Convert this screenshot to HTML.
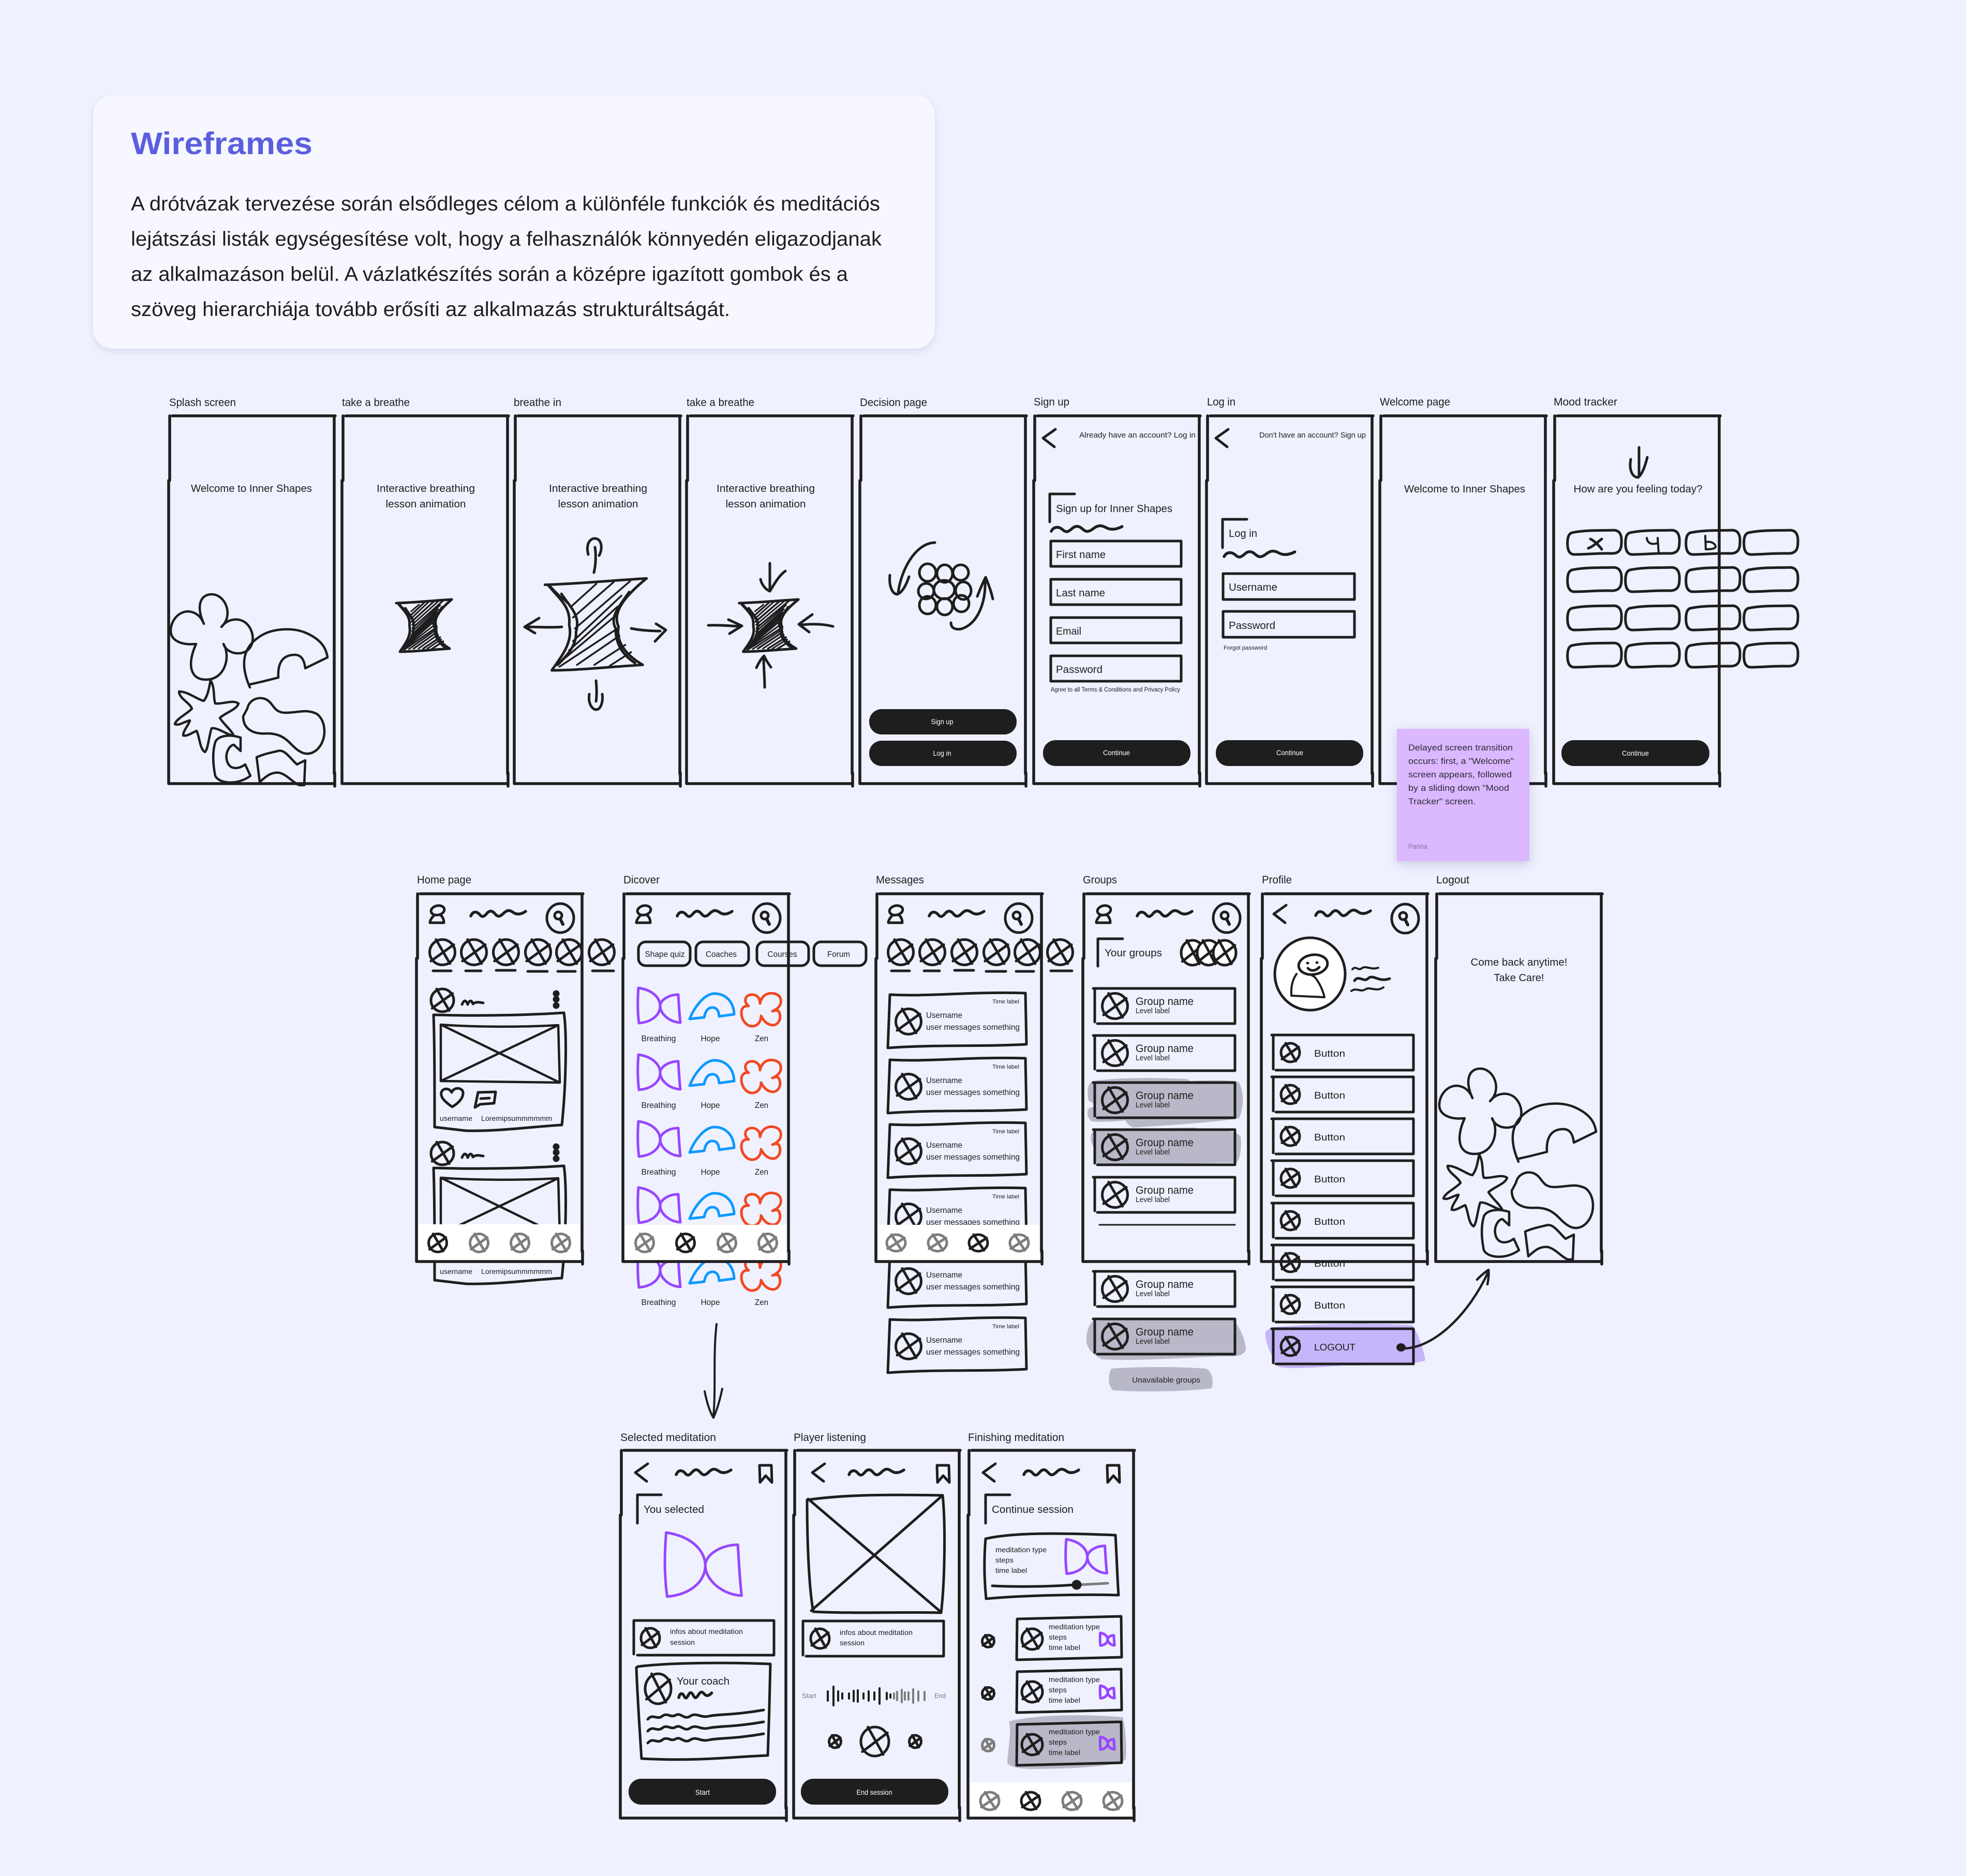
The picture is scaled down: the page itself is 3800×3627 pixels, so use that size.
<!DOCTYPE html>
<html><head><meta charset="utf-8"><title>Wireframes</title>
<style>
html,body{margin:0;padding:0;background:#eff1ff}
svg{display:block}
text{font-family:"Liberation Sans",sans-serif;fill:#1e1e1e;stroke:none}
path,ellipse,circle,line,rect{vector-effect:non-scaling-stroke}
</style></head>
<body>
<svg xmlns="http://www.w3.org/2000/svg" width="3800" height="3627" viewBox="0 0 3800 3627">
<defs>
<g id="frame"><path d="M6,0H321M319,2V692M320,690V716M-1,711H319M1,0V125M-1,125V711" stroke-width="5.5"/></g>
<g id="x"><ellipse rx="10" ry="10"/><path d="M-5,-10L6,9M9,-6L-9,7"/></g>
<g id="sq"><path d="M0,10C4,0 12,1 17,7S25,12 31,5S42,0 47,6S56,12 63,5S75,-2 82,3S97,7 106,1" stroke-width="5.5"/></g>
<g id="back"><path d="M24,0L0,17L22,34"/></g>
<g id="srch"><ellipse rx="26" ry="28"/><circle cx="-4" cy="-5" r="7"/><path d="M0,2L5,12" stroke-width="6"/></g>
<g id="head"><ellipse cx="40" cy="32" rx="13" ry="9" transform="rotate(-12 40 32)"/><path d="M34,41C28,46 25,52 25,56H52C52,50 50,44 44,40"/><use href="#sq" x="104" y="33"/><use href="#srch" x="277" y="47"/></g>
<g id="book"><path d="M0,0H23L24,33L12,20L1,33Z"/></g>
<g id="stories"><use href="#x" transform="translate(49,113) scale(2.45)"/><use href="#x" transform="translate(110,113) scale(2.45)"/><use href="#x" transform="translate(172,113) scale(2.45)"/><use href="#x" transform="translate(234,113) scale(2.45)"/><use href="#x" transform="translate(294,113) scale(2.45)"/><use href="#x" transform="translate(357,113) scale(2.45)"/><path d="M31,149H66M94,149H124M153,148H190M214,150H252M272,150H306M339,149H380"/></g>
<g id="bow"><path d="M2,0C30,4 44,20 44,35C44,52 28,66 3,68C0,45 0,25 2,0ZM44,35C44,24 60,13 79,13C80,30 81,50 83,67C62,66 44,50 44,35Z"/></g>
<g id="arc"><path d="M0,49C8,28 28,0 48,0C68,0 85,14 86,40L57,44C56,30 50,26 42,27C34,28 30,36 28,46Z"/></g>
<g id="flw"><path d="M36,20C36,6 26,2 18,3C6,5 4,18 14,25C6,24 0,28 0,38C0,52 10,65 22,64C34,63 38,52 38,44C44,56 52,62 62,62C74,60 78,46 72,35C70,33 66,33 60,35C72,30 78,22 76,12C74,2 62,-1 52,1C44,3 38,10 36,20Z"/></g>
<g id="shapes3" stroke-width="5"><use href="#bow" x="0" y="0" stroke="#9747ff"/><use href="#arc" x="101" y="11" stroke="#0d99ff"/><use href="#flw" x="201" y="10" stroke="#f24822"/></g>
<g id="mcard"><path d="M4,4C90,8 150,-2 266,1L268,100C180,105 100,100 0,107Z"/><use href="#x" transform="translate(40,56) scale(2.45)"/></g>
<g id="gcard"><path d="M-3,0H271V68M5,68H271M0,0V65"/><use href="#x" transform="translate(39,34) scale(2.45)"/></g>
<g id="pcard"><path d="M-3,0H271V66M5,68H271M0,0V66"/><use href="#x" transform="translate(33,34) scale(1.8)"/></g>
<g id="pill"><path d="M8,6C35,0 70,2 90,1C102,2 105,12 104,26C104,40 98,46 86,46C60,45 35,48 12,48C0,47 -1,32 0,20C1,12 3,8 8,6Z"/></g>
<g id="hg"><path d="M-3,6C30,5 70,1 102,-1C80,18 66,36 73,52C70,70 82,84 98,94C66,96 30,100 4,100C16,82 26,68 22,50C24,30 12,22 0,6Z"/><path d="M2,7C8,14 14,20 20,26M24,30L50,5M26,42L68,3M28,54L85,2M26,68L76,18M22,78L72,30M16,88L70,40M12,96L72,54M30,94L74,62M48,94L80,72M64,95L86,80" stroke-width="3.5"/><path d="M14,16C24,32 34,40 29,58C30,70 22,82 10,94M84,14C72,32 64,42 70,54C70,70 76,82 90,92"/></g>
<g id="hgd"><use href="#hg"/><path d="M25,22L40,9M25,36L58,4M27,48L76,3M27,61L80,10M24,73L74,24M20,83L70,35M14,92L71,47M21,95L72,58M39,94L76,67M56,94L82,76" stroke-width="3"/></g>
<g id="splash">
<path d="M394,1206C378,1170 388,1149 409,1149C436,1149 452,1190 428,1212C440,1196 462,1193 476,1205C494,1222 492,1252 474,1260C458,1268 436,1260 432,1245C446,1268 436,1314 398,1314C366,1314 362,1282 379,1245C350,1248 329,1238 330,1218C331,1196 350,1178 370,1183C382,1186 390,1195 394,1206"/>
<path d="M483,1329C466,1290 466,1255 500,1232C525,1214 565,1213 590,1223C618,1235 630,1250 633,1271L590,1292C588,1275 582,1266 570,1266C552,1266 536,1275 538,1310L506,1318L484,1323"/>
<path d="M407,1315C416,1330 412,1350 416,1360C430,1362 450,1352 461,1360C458,1372 435,1378 425,1388C432,1400 448,1412 452,1423C438,1420 420,1406 409,1408C404,1422 402,1450 396,1454C386,1448 386,1425 380,1413C372,1416 362,1424 354,1422C354,1412 366,1400 367,1393C358,1394 346,1404 338,1400C340,1390 362,1380 371,1370C366,1358 346,1350 346,1337C362,1336 384,1354 394,1355C402,1345 404,1330 407,1315"/>
<path d="M478,1370C482,1352 500,1346 514,1352C530,1360 528,1378 552,1378C578,1378 590,1370 612,1380C630,1392 634,1430 612,1450C590,1468 572,1448 560,1436C548,1424 536,1418 516,1418C490,1420 470,1410 470,1385L478,1370"/>
<path d="M465,1426C440,1418 420,1424 416,1435C410,1455 412,1480 416,1500C424,1516 460,1518 484,1500L474,1478C460,1488 444,1488 439,1472C434,1456 444,1440 452,1440L465,1452Z"/>
<path d="M496,1464L502,1512C515,1500 525,1492 540,1494C555,1498 565,1512 578,1518L588,1518L590,1470L574,1478C560,1465 550,1448 537,1452C520,1456 510,1458 496,1464Z"/>
</g>
<g id="post">
<path d="M838,1962C900,1964 1000,1964 1090,1958C1096,2000 1094,2100 1086,2175C1030,2178 960,2188 900,2186L840,2179C840,2100 840,2020 838,1962Z"/>
<path d="M852,1981C920,1986 1010,1986 1079,1982L1082,2093L852,2090ZM852,1981L1082,2093M1079,1982L852,2090" stroke-width="4.5"/>
<use href="#x" transform="translate(855,1934) scale(2.2)"/>
<path d="M893,1942C898,1930 902,1936 904,1942C908,1932 912,1934 914,1941C920,1936 926,1938 934,1939"/>
<circle cx="1075" cy="1921" r="4" fill="#1e1e1e"/><circle cx="1075" cy="1932" r="4" fill="#1e1e1e"/><circle cx="1075" cy="1944" r="4" fill="#1e1e1e"/>
<path d="M874,2140C860,2130 851,2122 853,2112C855,2104 868,2102 873,2112C878,2100 894,2103 895,2112C896,2124 884,2134 874,2140Z"/>
<path d="M924,2112L958,2111L955,2133L928,2135L918,2141ZM929,2124L946,2123"/>
</g>
</defs>

<rect width="3800" height="3627" fill="#eff1ff"/>

<rect x="180" y="184" width="1627" height="490" rx="38" fill="#f6f7ff" style="filter:drop-shadow(0 6px 7px rgba(70,70,130,.12))"/>
<text x="253" y="298" font-size="60" font-weight="700" style="fill:#5b5fde" textLength="351" lengthAdjust="spacingAndGlyphs">Wireframes</text>
<g font-size="39">
<text x="253" y="407" textLength="1448" lengthAdjust="spacingAndGlyphs">A drótvázak tervezése során elsődleges célom a különféle funkciók és meditációs</text>
<text x="253" y="475" textLength="1451" lengthAdjust="spacingAndGlyphs">lejátszási listák egységesítése volt, hogy a felhasználók könnyedén eligazodjanak</text>
<text x="253" y="543" textLength="1386" lengthAdjust="spacingAndGlyphs">az alkalmazáson belül. A vázlatkészítés során a középre igazított gombok és a</text>
<text x="253" y="611" textLength="1158" lengthAdjust="spacingAndGlyphs">szöveg hierarchiája tovább erősíti az alkalmazás strukturáltságát.</text>
</g>

<g font-size="21">
<text x="327" y="785" textLength="129" lengthAdjust="spacingAndGlyphs">Splash screen</text>
<text x="661" y="785" textLength="131" lengthAdjust="spacingAndGlyphs">take a breathe</text>
<text x="993" y="785" textLength="92" lengthAdjust="spacingAndGlyphs">breathe in</text>
<text x="1327" y="785" textLength="131" lengthAdjust="spacingAndGlyphs">take a breathe</text>
<text x="1662" y="785" textLength="130" lengthAdjust="spacingAndGlyphs">Decision page</text>
<text x="1998" y="784" textLength="69" lengthAdjust="spacingAndGlyphs">Sign up</text>
<text x="2333" y="784" textLength="55" lengthAdjust="spacingAndGlyphs">Log in</text>
<text x="2667" y="784" textLength="136" lengthAdjust="spacingAndGlyphs">Welcome page</text>
<text x="3003" y="784" textLength="123" lengthAdjust="spacingAndGlyphs">Mood tracker</text>
<text x="806" y="1708" textLength="105" lengthAdjust="spacingAndGlyphs">Home page</text>
<text x="1205" y="1708" textLength="70" lengthAdjust="spacingAndGlyphs">Dicover</text>
<text x="1693" y="1708" textLength="93" lengthAdjust="spacingAndGlyphs">Messages</text>
<text x="2093" y="1708" textLength="66" lengthAdjust="spacingAndGlyphs">Groups</text>
<text x="2439" y="1708" textLength="58" lengthAdjust="spacingAndGlyphs">Profile</text>
<text x="2776" y="1708" textLength="64" lengthAdjust="spacingAndGlyphs">Logout</text>
<text x="1199" y="2786" textLength="185" lengthAdjust="spacingAndGlyphs">Selected meditation</text>
<text x="1534" y="2786" textLength="140" lengthAdjust="spacingAndGlyphs">Player listening</text>
<text x="1871" y="2786" textLength="186" lengthAdjust="spacingAndGlyphs">Finishing meditation</text>
</g>

<g fill="none" stroke="#1e1e1e" stroke-width="5" stroke-linecap="round" stroke-linejoin="round">

<!-- ROW 1 contents -->
<use href="#splash" stroke-width="4.5"/>
<use href="#hgd" transform="translate(769,1160) scale(1.02,1)"/>
<use href="#hg" transform="translate(1059,1120) scale(1.87,1.76)"/>
<use href="#hgd" transform="translate(1432,1160) scale(1.09,1)"/>
<!-- breath arrows -->
<path d="M1148,1107C1152,1090 1152,1070 1150,1058M1137,1072C1132,1052 1140,1041 1150,1041C1164,1042 1165,1062 1158,1074"/>
<path d="M1152,1316C1154,1335 1153,1350 1152,1356M1139,1342C1136,1362 1146,1372 1152,1372C1162,1372 1166,1355 1164,1342"/>
<path d="M1086,1212C1060,1214 1040,1212 1022,1212M1042,1195L1014,1212L1034,1224"/>
<path d="M1220,1215C1240,1219 1260,1220 1276,1220M1268,1206L1287,1218L1266,1240"/>
<path d="M1488,1089L1488,1140M1470,1120C1472,1130 1480,1140 1488,1143C1496,1130 1506,1112 1518,1104"/>
<path d="M1478,1329C1478,1310 1476,1290 1476,1270M1462,1291C1466,1282 1472,1272 1477,1268C1480,1276 1486,1284 1490,1290"/>
<path d="M1369,1209C1390,1208 1410,1210 1430,1211M1408,1198L1434,1210L1410,1225"/>
<path d="M1610,1211C1590,1206 1570,1206 1550,1208M1570,1188L1544,1207L1564,1222"/>
<!-- decision cluster -->
<ellipse cx="1793" cy="1107" rx="16" ry="17"/><ellipse cx="1826" cy="1109" rx="15" ry="17"/><ellipse cx="1857" cy="1107" rx="15" ry="15" transform="rotate(-20 1857 1107)"/>
<ellipse cx="1790" cy="1143" rx="15" ry="15"/><ellipse cx="1825" cy="1140" rx="20" ry="18"/><ellipse cx="1862" cy="1142" rx="15" ry="17"/>
<ellipse cx="1793" cy="1170" rx="16" ry="17"/><ellipse cx="1826" cy="1173" rx="15" ry="16"/><ellipse cx="1858" cy="1167" rx="15" ry="16"/>
<path d="M1807,1049C1770,1050 1742,1100 1736,1146M1720,1112C1718,1132 1724,1148 1734,1149C1744,1146 1752,1130 1757,1115"/>
<path d="M1838,1204C1838,1214 1846,1218 1858,1216C1890,1206 1906,1165 1904,1120M1889,1153C1894,1140 1900,1126 1905,1116C1910,1128 1916,1144 1919,1158"/>
<!-- Sign up -->
<use href="#back" x="2016" y="830" stroke-width="5"/>
<path d="M2029,1009V955H2077" stroke-width="5"/>
<use href="#sq" transform="translate(2032,1017) scale(1.29,1)"/>
<rect x="2031" y="1046" width="252" height="49"/><rect x="2031" y="1120" width="252" height="49"/><rect x="2031" y="1194" width="252" height="49"/><rect x="2031" y="1268" width="252" height="49"/>
<!-- Log in -->
<use href="#back" x="2350" y="830" stroke-width="5"/>
<path d="M2363,1059V1004H2410" stroke-width="5"/>
<use href="#sq" transform="translate(2366,1066) scale(1.29,1)"/>
<rect x="2364" y="1109" width="254" height="50"/><rect x="2364" y="1182" width="254" height="50"/>
<!-- Mood -->
<path d="M3168,865L3168,920M3152,888C3148,910 3156,923 3166,923C3174,918 3180,900 3184,884" stroke-width="5"/>
<use href="#pill" x="3030" y="1024"/><use href="#pill" x="3142" y="1024"/><use href="#pill" x="3259" y="1024"/><use href="#pill" x="3371" y="1024"/>
<use href="#pill" x="3030" y="1096"/><use href="#pill" x="3142" y="1096"/><use href="#pill" x="3259" y="1096"/><use href="#pill" x="3371" y="1096"/>
<use href="#pill" x="3030" y="1170"/><use href="#pill" x="3142" y="1170"/><use href="#pill" x="3259" y="1170"/><use href="#pill" x="3371" y="1170"/>
<use href="#pill" x="3030" y="1242"/><use href="#pill" x="3142" y="1242"/><use href="#pill" x="3259" y="1242"/><use href="#pill" x="3371" y="1242"/>
<path d="M3074,1042C3082,1046 3090,1054 3096,1062M3096,1042C3088,1048 3080,1056 3070,1060" stroke-width="5"/>
<path d="M3183,1040C3184,1050 3192,1054 3204,1050M3204,1040L3206,1070" stroke-width="4"/>
<path d="M3296,1036L3297,1062M3297,1048C3306,1046 3316,1050 3316,1058C3312,1062 3304,1062 3297,1062" stroke-width="4"/>

<!-- ROW 2 -->
<!-- Home -->
<use href="#head" x="806" y="1728" stroke-width="5"/>
<use href="#stories" x="806" y="1728" stroke-width="5"/>
<use href="#post" stroke-width="5"/>
<use href="#post" y="296" stroke-width="5"/>
<rect x="809" y="2367" width="313" height="72" fill="#fff" stroke="none"/>
<use href="#x" transform="translate(846,2403) scale(1.75)" stroke-width="5"/>
<use href="#x" transform="translate(926,2403) scale(1.75)" stroke="#7d7d7d" stroke-width="5"/>
<use href="#x" transform="translate(1005,2403) scale(1.75)" stroke="#7d7d7d" stroke-width="5"/>
<use href="#x" transform="translate(1084,2403) scale(1.75)" stroke="#7d7d7d" stroke-width="5"/>
<!-- Discover -->
<use href="#head" x="1205" y="1728" stroke-width="5"/>
<rect x="1234" y="1821" width="100" height="46" rx="14" stroke-width="5"/><rect x="1345" y="1821" width="102" height="46" rx="14" stroke-width="5"/><rect x="1463" y="1821" width="100" height="46" rx="14" stroke-width="5"/><rect x="1573" y="1821" width="101" height="46" rx="14" stroke-width="5"/>
<use href="#shapes3" x="1232" y="1910"/><use href="#shapes3" x="1232" y="2039"/><use href="#shapes3" x="1232" y="2168"/><use href="#shapes3" x="1232" y="2296"/><use href="#shapes3" x="1232" y="2421"/>
<rect x="1208" y="2368" width="313" height="71" fill="#fff" stroke="none"/>
<use href="#x" transform="translate(1246,2403) scale(1.75)" stroke="#7d7d7d" stroke-width="5"/>
<use href="#x" transform="translate(1325,2403) scale(1.75)" stroke-width="5"/>
<use href="#x" transform="translate(1405,2403) scale(1.75)" stroke="#7d7d7d" stroke-width="5"/>
<use href="#x" transform="translate(1484,2403) scale(1.75)" stroke="#7d7d7d" stroke-width="5"/>
<!-- Messages -->
<use href="#head" x="1692" y="1728" stroke-width="5"/>
<use href="#stories" x="1692" y="1728" stroke-width="5"/>
<use href="#mcard" x="1716" y="1919" stroke-width="5"/><use href="#mcard" x="1716" y="2045" stroke-width="5"/><use href="#mcard" x="1716" y="2170" stroke-width="5"/><use href="#mcard" x="1716" y="2296" stroke-width="5"/><use href="#mcard" x="1716" y="2421" stroke-width="5"/><use href="#mcard" x="1716" y="2547" stroke-width="5"/>
</g>

<!-- Text row 1 -->
<g font-size="20" text-anchor="middle">
<text x="486" y="951" textLength="234" lengthAdjust="spacingAndGlyphs">Welcome to Inner Shapes</text>
<text x="823" y="951" textLength="190" lengthAdjust="spacingAndGlyphs">Interactive breathing</text>
<text x="823" y="981" textLength="155" lengthAdjust="spacingAndGlyphs">lesson animation</text>
<text x="1156" y="951" textLength="190" lengthAdjust="spacingAndGlyphs">Interactive breathing</text>
<text x="1156" y="981" textLength="155" lengthAdjust="spacingAndGlyphs">lesson animation</text>
<text x="1480" y="951" textLength="190" lengthAdjust="spacingAndGlyphs">Interactive breathing</text>
<text x="1480" y="981" textLength="155" lengthAdjust="spacingAndGlyphs">lesson animation</text>
<text x="2831" y="952" textLength="234" lengthAdjust="spacingAndGlyphs">Welcome to Inner Shapes</text>
<text x="3166" y="952" textLength="249" lengthAdjust="spacingAndGlyphs">How are you feeling today?</text>
</g>
<text x="2086" y="846" font-size="15" textLength="225" lengthAdjust="spacingAndGlyphs">Already have an account? Log in</text>
<text x="2434" y="846" font-size="15" textLength="206" lengthAdjust="spacingAndGlyphs">Don't have an account? Sign up</text>
<g font-size="20">
<text x="2041" y="990" textLength="225" lengthAdjust="spacingAndGlyphs">Sign up for Inner Shapes</text>
<text x="2041" y="1079" textLength="96" lengthAdjust="spacingAndGlyphs">First name</text>
<text x="2041" y="1153" textLength="95" lengthAdjust="spacingAndGlyphs">Last name</text>
<text x="2041" y="1227" textLength="49" lengthAdjust="spacingAndGlyphs">Email</text>
<text x="2041" y="1301" textLength="90" lengthAdjust="spacingAndGlyphs">Password</text>
<text x="2375" y="1038" textLength="55" lengthAdjust="spacingAndGlyphs">Log in</text>
<text x="2375" y="1142" textLength="94" lengthAdjust="spacingAndGlyphs">Username</text>
<text x="2375" y="1216" textLength="90" lengthAdjust="spacingAndGlyphs">Password</text>
</g>
<text x="2031" y="1337" font-size="11.5" textLength="250" lengthAdjust="spacingAndGlyphs">Agree to all Terms &amp; Conditions and Privacy Policy</text>
<text x="2365" y="1256" font-size="11" textLength="84" lengthAdjust="spacingAndGlyphs">Forgot password</text>
<!-- buttons -->
<g fill="#1e1e1e">
<rect x="1680" y="1371" width="285" height="49" rx="24"/><rect x="1680" y="1432" width="285" height="49" rx="24"/>
<rect x="2016" y="1431" width="285" height="50" rx="24"/><rect x="2350" y="1431" width="285" height="50" rx="24"/>
<rect x="3018" y="1431" width="286" height="50" rx="24"/>
<rect x="1215" y="3439" width="285" height="50" rx="24"/><rect x="1548" y="3439" width="285" height="50" rx="24"/>
</g>
<g font-size="14" text-anchor="middle">
<text x="1821" y="1400" style="fill:#fff" textLength="43" lengthAdjust="spacingAndGlyphs">Sign up</text>
<text x="1821" y="1461" style="fill:#fff" textLength="35" lengthAdjust="spacingAndGlyphs">Log in</text>
<text x="2158" y="1460" style="fill:#fff" textLength="52" lengthAdjust="spacingAndGlyphs">Continue</text>
<text x="2493" y="1460" style="fill:#fff" textLength="52" lengthAdjust="spacingAndGlyphs">Continue</text>
<text x="3161" y="1461" style="fill:#fff" textLength="52" lengthAdjust="spacingAndGlyphs">Continue</text>
<text x="1358" y="3470" style="fill:#fff" textLength="28" lengthAdjust="spacingAndGlyphs">Start</text>
<text x="1690" y="3470" style="fill:#fff" textLength="69" lengthAdjust="spacingAndGlyphs">End session</text>
</g>
<!-- home text -->
<g font-size="14">
<text x="850" y="2167" textLength="63" lengthAdjust="spacingAndGlyphs">username</text>
<text x="930" y="2167" textLength="137" lengthAdjust="spacingAndGlyphs">Loremipsummmmmm</text>
<text x="850" y="2463" textLength="63" lengthAdjust="spacingAndGlyphs">username</text>
<text x="930" y="2463" textLength="137" lengthAdjust="spacingAndGlyphs">Loremipsummmmmm</text>
</g>
<!-- discover text -->
<g font-size="16" text-anchor="middle">
<text x="1285" y="1850" textLength="77" lengthAdjust="spacingAndGlyphs">Shape quiz</text>
<text x="1394" y="1850" textLength="60" lengthAdjust="spacingAndGlyphs">Coaches</text>
<text x="1512" y="1850" textLength="57" lengthAdjust="spacingAndGlyphs">Courses</text>
<text x="1621" y="1850" textLength="44" lengthAdjust="spacingAndGlyphs">Forum</text>
<text x="1273" y="2013" textLength="67" lengthAdjust="spacingAndGlyphs">Breathing</text><text x="1373" y="2013" textLength="37" lengthAdjust="spacingAndGlyphs">Hope</text><text x="1472" y="2013" textLength="26" lengthAdjust="spacingAndGlyphs">Zen</text>
<text x="1273" y="2142" textLength="67" lengthAdjust="spacingAndGlyphs">Breathing</text><text x="1373" y="2142" textLength="37" lengthAdjust="spacingAndGlyphs">Hope</text><text x="1472" y="2142" textLength="26" lengthAdjust="spacingAndGlyphs">Zen</text>
<text x="1273" y="2271" textLength="67" lengthAdjust="spacingAndGlyphs">Breathing</text><text x="1373" y="2271" textLength="37" lengthAdjust="spacingAndGlyphs">Hope</text><text x="1472" y="2271" textLength="26" lengthAdjust="spacingAndGlyphs">Zen</text>
<text x="1273" y="2523" textLength="67" lengthAdjust="spacingAndGlyphs">Breathing</text><text x="1373" y="2523" textLength="37" lengthAdjust="spacingAndGlyphs">Hope</text><text x="1472" y="2523" textLength="26" lengthAdjust="spacingAndGlyphs">Zen</text>
</g>
<!-- messages text -->
<g font-size="16">
<text x="1790" y="1968" textLength="70" lengthAdjust="spacingAndGlyphs">Username</text><text x="1790" y="1991" textLength="181" lengthAdjust="spacingAndGlyphs">user messages something</text>
<text x="1790" y="2094" textLength="70" lengthAdjust="spacingAndGlyphs">Username</text><text x="1790" y="2117" textLength="181" lengthAdjust="spacingAndGlyphs">user messages something</text>
<text x="1790" y="2219" textLength="70" lengthAdjust="spacingAndGlyphs">Username</text><text x="1790" y="2242" textLength="181" lengthAdjust="spacingAndGlyphs">user messages something</text>
<text x="1790" y="2345" textLength="70" lengthAdjust="spacingAndGlyphs">Username</text><text x="1790" y="2368" textLength="181" lengthAdjust="spacingAndGlyphs">user messages something</text>
<text x="1790" y="2470" textLength="70" lengthAdjust="spacingAndGlyphs">Username</text><text x="1790" y="2493" textLength="181" lengthAdjust="spacingAndGlyphs">user messages something</text>
<text x="1790" y="2596" textLength="70" lengthAdjust="spacingAndGlyphs">Username</text><text x="1790" y="2619" textLength="181" lengthAdjust="spacingAndGlyphs">user messages something</text>
</g>
<g font-size="11">
<text x="1918" y="1940" textLength="52" lengthAdjust="spacingAndGlyphs">Time label</text>
<text x="1918" y="2066" textLength="52" lengthAdjust="spacingAndGlyphs">Time label</text>
<text x="1918" y="2191" textLength="52" lengthAdjust="spacingAndGlyphs">Time label</text>
<text x="1918" y="2317" textLength="52" lengthAdjust="spacingAndGlyphs">Time label</text>
<text x="1918" y="2568" textLength="52" lengthAdjust="spacingAndGlyphs">Time label</text>
</g>

<g fill="none" stroke="#1e1e1e" stroke-width="5" stroke-linecap="round" stroke-linejoin="round">
<!-- cover for message list under bar -->
<rect x="1697" y="2368" width="312" height="71" fill="#fff" stroke="none"/>
<use href="#x" transform="translate(1732,2403) scale(1.8,1.6)" stroke="#7d7d7d"/>
<use href="#x" transform="translate(1812,2403) scale(1.8,1.6)" stroke="#7d7d7d"/>
<use href="#x" transform="translate(1891,2403) scale(1.8,1.6)"/>
<use href="#x" transform="translate(1970,2403) scale(1.8,1.6)" stroke="#7d7d7d"/>

<!-- Groups -->
<path d="M2112,2090C2170,2082 2240,2084 2294,2086L2300,2090C2340,2088 2380,2088 2394,2092C2406,2112 2404,2140 2395,2162C2350,2170 2250,2176 2190,2180C2180,2176 2178,2170 2175,2166C2160,2168 2130,2170 2110,2168C2100,2160 2100,2146 2106,2142L2122,2138L2104,2128C2100,2105 2104,2094 2112,2090Z" fill="#b8b8c8" stroke="none"/>
<path d="M2116,2184L2310,2180L2315,2184C2360,2182 2392,2186 2398,2198C2400,2215 2398,2240 2390,2248L2120,2252L2115,2220C2108,2210 2104,2192 2116,2184Z" fill="#b8b8c8" stroke="none"/>
<path d="M2112,2554C2200,2546 2320,2546 2384,2552C2400,2570 2408,2596 2408,2610C2404,2620 2390,2624 2372,2622C2300,2624 2200,2632 2130,2628C2110,2618 2100,2606 2100,2590C2100,2576 2104,2562 2112,2554Z" fill="#b8b8c8" stroke="none"/>
<path d="M2148,2646C2200,2642 2280,2642 2330,2646C2344,2650 2346,2672 2342,2684C2300,2690 2200,2692 2152,2688C2140,2680 2142,2656 2148,2646Z" fill="#b8b8c8" stroke="none"/>
<use href="#head" x="2094" y="1728"/>
<path d="M2122,1868V1815H2170"/>
<use href="#x" transform="translate(2305,1842) scale(2.2,2.4)" fill="#fff"/>
<use href="#x" transform="translate(2336,1842) scale(2.2,2.4)" fill="#fff"/>
<use href="#x" transform="translate(2367,1842) scale(2.2,2.4)" fill="#fff"/>
<use href="#gcard" x="2116" y="1911"/><use href="#gcard" x="2116" y="2002"/><use href="#gcard" x="2116" y="2093"/><use href="#gcard" x="2116" y="2184"/><use href="#gcard" x="2116" y="2276"/>
<path d="M2125,2368H2387" stroke-width="3"/>
<use href="#gcard" x="2116" y="2458"/><use href="#gcard" x="2116" y="2550"/>

<!-- Profile -->
<use href="#back" transform="translate(2462,1750)"/>
<use href="#sq" transform="translate(2543,1760)"/>
<use href="#srch" transform="translate(2716,1776)"/>
<ellipse cx="2532" cy="1883" rx="68" ry="70" fill="#fff"/>
<ellipse cx="2538" cy="1865" rx="28" ry="19" transform="rotate(-8 2538 1865)"/>
<path d="M2527,1862h1M2545,1861h1M2528,1872C2534,1878 2542,1878 2550,1870"/>
<path d="M2506,1883C2494,1900 2496,1918 2496,1925L2560,1928C2556,1910 2544,1888 2536,1886" stroke-width="4"/>
<path d="M2614,1874C2620,1866 2626,1878 2632,1872C2640,1866 2650,1876 2664,1871" stroke-width="4"/>
<path d="M2618,1896C2626,1884 2636,1900 2644,1892C2654,1882 2664,1900 2686,1892" stroke-width="5"/>
<path d="M2612,1916C2622,1908 2630,1920 2640,1912C2650,1908 2660,1918 2674,1909" stroke-width="4"/>
<use href="#pcard" x="2461" y="2001"/><use href="#pcard" x="2461" y="2082"/><use href="#pcard" x="2461" y="2163"/><use href="#pcard" x="2461" y="2244"/><use href="#pcard" x="2461" y="2326"/><use href="#pcard" x="2461" y="2407"/><use href="#pcard" x="2461" y="2488"/>
<path d="M2462,2566C2560,2558 2660,2558 2730,2562C2742,2580 2752,2610 2755,2630C2740,2638 2660,2640 2600,2640C2540,2644 2490,2648 2470,2642C2456,2620 2444,2590 2446,2576C2450,2570 2456,2568 2462,2566Z" fill="#c5b5fb" stroke="none"/>
<use href="#pcard" x="2461" y="2569"/>
<ellipse cx="2708" cy="2605" rx="9" ry="8" fill="#1e1e1e" stroke="none"/>
<path d="M2708,2607C2770,2610 2840,2540 2877,2458M2855,2474C2862,2466 2870,2460 2877,2455C2878,2462 2877,2474 2875,2483" stroke-width="4.5"/>

<!-- Logout -->
<use href="#splash" transform="translate(2452,917)" stroke-width="4.5"/>

<!-- ROW 3 -->
<use href="#back" x="1228" y="2830"/>
<use href="#sq" transform="translate(1307,2841) scale(1)"/>
<use href="#book" x="1468" y="2833"/>
<path d="M1232,2945V2890H1278"/>
<use href="#bow" transform="translate(1284,2963) scale(1.8,1.82)" stroke="#9747ff"/>
<path d="M1226,3133H1496V3198M1232,3200H1496M1225,3133V3198"/>
<use href="#x" transform="translate(1257,3167) scale(1.8,1.9)"/>
<path d="M1233,3222C1300,3214 1400,3214 1489,3217C1488,3270 1486,3340 1484,3394C1420,3396 1350,3406 1240,3400C1236,3340 1232,3280 1230,3224Z"/>
<use href="#x" transform="translate(1272,3265) scale(2.5,2.9)"/>
<use href="#sq" transform="translate(1312,3272) scale(.6,1)"/>
<path d="M1252,3324C1262,3312 1270,3326 1280,3318S1296,3322 1306,3316S1322,3326 1334,3318S1354,3322 1370,3318S1420,3316 1476,3306"/>
<path d="M1252,3347C1262,3335 1270,3349 1280,3341S1296,3345 1306,3339S1322,3349 1334,3341S1354,3345 1370,3341S1420,3339 1476,3329"/>
<path d="M1252,3370C1262,3358 1270,3372 1280,3364S1296,3368 1306,3362S1322,3372 1334,3364S1354,3368 1370,3364S1420,3362 1476,3352"/>

<use href="#back" x="1570" y="2830"/>
<use href="#sq" transform="translate(1641,2841)"/>
<use href="#book" x="1811" y="2833"/>
<path d="M1560,2900C1640,2888 1740,2890 1822,2891C1828,2950 1826,3060 1819,3118C1750,3116 1650,3120 1572,3116C1562,3060 1560,2960 1560,2900ZM1562,2898L1818,3116M1822,2891L1568,3114"/>
<path d="M1552,3134H1824V3200M1558,3202H1824M1552,3134V3200"/>
<use href="#x" transform="translate(1585,3168) scale(1.8,1.9)"/>
<path d="M1600,3270V3288M1611,3261V3297M1620,3270V3288M1628,3274V3284M1641,3274V3284M1650,3269V3289M1658,3268V3290M1669,3274V3284M1679,3270V3288M1690,3272V3286M1700,3264V3294M1714,3273V3285M1721,3276V3282" stroke-width="4"/>
<path d="M1728,3274V3284M1734,3271V3287M1743,3267V3291M1749,3272V3286M1756,3272V3286M1765,3266V3292M1775,3270V3288M1787,3271V3287" stroke="#7d7d7d" stroke-width="4"/>
<use href="#x" transform="translate(1691,3367) scale(2.7,2.8)"/>
<use href="#x" transform="translate(1614,3367) scale(1.15,1.2)"/>
<use href="#x" transform="translate(1769,3367) scale(1.15,1.2)"/>

<use href="#back" x="1900" y="2830"/>
<use href="#sq" transform="translate(1979,2841)"/>
<use href="#book" x="2140" y="2833"/>
<path d="M1905,2945V2890H1952"/>
<path d="M1905,2975C1960,2962 2060,2964 2156,2968C2158,3000 2160,3060 2162,3084C2100,3082 1980,3084 1906,3091C1902,3050 1902,3010 1905,2975Z"/>
<use href="#bow" transform="translate(2059,2976) scale(.97,.98)" stroke="#9747ff"/>
<path d="M1918,3066C1960,3068 2020,3068 2078,3064"/>
<path d="M2086,3064L2141,3061" stroke="#7d7d7d"/>
<circle cx="2081" cy="3064" r="7" fill="#1e1e1e"/>
<path d="M1950,3328C2010,3314 2100,3314 2170,3320C2176,3340 2178,3380 2176,3400C2170,3416 2060,3420 2000,3420C1970,3420 1950,3416 1947,3408C1948,3380 1956,3350 1950,3328Z" fill="#b8b8c8" stroke="none"/>
<path d="M1966,3130L2167,3125L2168,3204L1965,3209Z"/><path d="M1966,3232L2167,3227L2168,3306L1965,3311Z"/><path d="M1966,3334L2167,3329L2168,3408L1965,3413Z"/>
<use href="#x" transform="translate(1995,3169) scale(2)"/><use href="#x" transform="translate(1995,3271) scale(2)"/><use href="#x" transform="translate(1995,3373) scale(2)"/>
<use href="#x" transform="translate(1910,3173) scale(1.15)"/><use href="#x" transform="translate(1910,3274) scale(1.15)"/><use href="#x" transform="translate(1910,3374) scale(1.15)" stroke="#7d7d7d"/>
<use href="#bow" transform="translate(2126,3157) scale(.34,.36)" stroke="#9747ff"/><use href="#bow" transform="translate(2126,3259) scale(.34,.36)" stroke="#9747ff"/><use href="#bow" transform="translate(2126,3358) scale(.34,.36)" stroke="#9747ff"/>
<rect x="1875" y="3446" width="312" height="69" fill="#fff" stroke="none"/>
<use href="#x" transform="translate(1913,3482) scale(1.8,1.7)" stroke="#7d7d7d"/>
<use href="#x" transform="translate(1992,3482) scale(1.8,1.7)"/>
<use href="#x" transform="translate(2072,3482) scale(1.8,1.7)" stroke="#7d7d7d"/>
<use href="#x" transform="translate(2151,3482) scale(1.8,1.7)" stroke="#7d7d7d"/>

<!-- Flow arrow -->
<path d="M1385,2560C1378,2620 1384,2680 1379,2738M1362,2690C1366,2710 1372,2730 1379,2741C1386,2726 1392,2704 1396,2685" stroke-width="4"/>

<!-- FRAMES -->
<use href="#frame" x="327" y="804"/><use href="#frame" x="662" y="804"/><use href="#frame" x="995" y="804"/><use href="#frame" x="1328" y="804"/><use href="#frame" x="1663" y="804"/><use href="#frame" x="1999" y="804"/><use href="#frame" x="2333" y="804"/><use href="#frame" x="2668" y="804"/><use href="#frame" x="3004" y="804"/>
<use href="#frame" x="806" y="1728"/><use href="#frame" x="1205" y="1728"/><use href="#frame" x="1694" y="1728"/><use href="#frame" x="2094" y="1728"/><use href="#frame" x="2439" y="1728"/><use href="#frame" x="2776" y="1728"/>
<use href="#frame" x="1200" y="2804"/><use href="#frame" x="1535" y="2804"/><use href="#frame" x="1872" y="2804"/>
</g>

<!-- Groups text -->
<text x="2135" y="1849" font-size="20" textLength="111" lengthAdjust="spacingAndGlyphs">Your groups</text>
<g font-size="21">
<text x="2195" y="1943" textLength="112" lengthAdjust="spacingAndGlyphs">Group name</text>
<text x="2195" y="2034" textLength="112" lengthAdjust="spacingAndGlyphs">Group name</text>
<text x="2195" y="2125" textLength="112" lengthAdjust="spacingAndGlyphs">Group name</text>
<text x="2195" y="2216" textLength="112" lengthAdjust="spacingAndGlyphs">Group name</text>
<text x="2195" y="2308" textLength="112" lengthAdjust="spacingAndGlyphs">Group name</text>
<text x="2195" y="2490" textLength="112" lengthAdjust="spacingAndGlyphs">Group name</text>
<text x="2195" y="2582" textLength="112" lengthAdjust="spacingAndGlyphs">Group name</text>
</g>
<g font-size="14.5">
<text x="2195" y="1959" textLength="66" lengthAdjust="spacingAndGlyphs">Level label</text>
<text x="2195" y="2050" textLength="66" lengthAdjust="spacingAndGlyphs">Level label</text>
<text x="2195" y="2141" textLength="66" lengthAdjust="spacingAndGlyphs">Level label</text>
<text x="2195" y="2232" textLength="66" lengthAdjust="spacingAndGlyphs">Level label</text>
<text x="2195" y="2324" textLength="66" lengthAdjust="spacingAndGlyphs">Level label</text>
<text x="2195" y="2506" textLength="66" lengthAdjust="spacingAndGlyphs">Level label</text>
<text x="2195" y="2598" textLength="66" lengthAdjust="spacingAndGlyphs">Level label</text>
</g>
<text x="2254" y="2673" font-size="15" text-anchor="middle" textLength="132" lengthAdjust="spacingAndGlyphs">Unavailable groups</text>
<!-- Profile text -->
<g font-size="18">
<text x="2540" y="2043" textLength="60" lengthAdjust="spacingAndGlyphs">Button</text>
<text x="2540" y="2124" textLength="60" lengthAdjust="spacingAndGlyphs">Button</text>
<text x="2540" y="2205" textLength="60" lengthAdjust="spacingAndGlyphs">Button</text>
<text x="2540" y="2286" textLength="60" lengthAdjust="spacingAndGlyphs">Button</text>
<text x="2540" y="2368" textLength="60" lengthAdjust="spacingAndGlyphs">Button</text>
<text x="2540" y="2449" textLength="60" lengthAdjust="spacingAndGlyphs">Button</text>
<text x="2540" y="2530" textLength="60" lengthAdjust="spacingAndGlyphs">Button</text>
<text x="2540" y="2611" textLength="80" lengthAdjust="spacingAndGlyphs">LOGOUT</text>
</g>
<!-- Logout text -->
<g font-size="20" text-anchor="middle">
<text x="2936" y="1867" textLength="187" lengthAdjust="spacingAndGlyphs">Come back anytime!</text>
<text x="2936" y="1897" textLength="97" lengthAdjust="spacingAndGlyphs">Take Care!</text>
</g>
<!-- Row 3 text -->
<g font-size="20">
<text x="1244" y="2925" textLength="117" lengthAdjust="spacingAndGlyphs">You selected</text>
<text x="1308" y="3257" textLength="102" lengthAdjust="spacingAndGlyphs">Your coach</text>
<text x="1917" y="2925" textLength="158" lengthAdjust="spacingAndGlyphs">Continue session</text>
</g>
<g font-size="14">
<text x="1295" y="3159" textLength="141" lengthAdjust="spacingAndGlyphs">infos about meditation</text>
<text x="1295" y="3180" textLength="48" lengthAdjust="spacingAndGlyphs">session</text>
<text x="1623" y="3161" textLength="141" lengthAdjust="spacingAndGlyphs">infos about meditation</text>
<text x="1623" y="3181" textLength="48" lengthAdjust="spacingAndGlyphs">session</text>
<text x="1924" y="3001" textLength="99" lengthAdjust="spacingAndGlyphs">meditation type</text>
<text x="1924" y="3021" textLength="35" lengthAdjust="spacingAndGlyphs">steps</text>
<text x="1924" y="3041" textLength="61" lengthAdjust="spacingAndGlyphs">time label</text>
<text x="2027" y="3150" textLength="99" lengthAdjust="spacingAndGlyphs">meditation type</text>
<text x="2027" y="3170" textLength="35" lengthAdjust="spacingAndGlyphs">steps</text>
<text x="2027" y="3190" textLength="61" lengthAdjust="spacingAndGlyphs">time label</text>
<text x="2027" y="3252" textLength="99" lengthAdjust="spacingAndGlyphs">meditation type</text>
<text x="2027" y="3272" textLength="35" lengthAdjust="spacingAndGlyphs">steps</text>
<text x="2027" y="3292" textLength="61" lengthAdjust="spacingAndGlyphs">time label</text>
<text x="2027" y="3353" textLength="99" lengthAdjust="spacingAndGlyphs">meditation type</text>
<text x="2027" y="3373" textLength="35" lengthAdjust="spacingAndGlyphs">steps</text>
<text x="2027" y="3393" textLength="61" lengthAdjust="spacingAndGlyphs">time label</text>
</g>
<text x="1550" y="3283" font-size="13" style="fill:#777" textLength="28" lengthAdjust="spacingAndGlyphs">Start</text>
<text x="1806" y="3283" font-size="13" style="fill:#777" textLength="22" lengthAdjust="spacingAndGlyphs">End</text>

<!-- Sticky -->
<rect x="2700" y="1409" width="256" height="256" fill="#dbb8ff" style="filter:drop-shadow(0 6px 10px rgba(40,30,80,.18))"/>
<g font-size="17">
<text x="2722" y="1451" style="fill:#2e2a3a" textLength="202" lengthAdjust="spacingAndGlyphs">Delayed screen transition</text>
<text x="2722" y="1477" style="fill:#2e2a3a" textLength="204" lengthAdjust="spacingAndGlyphs">occurs: first, a "Welcome"</text>
<text x="2722" y="1503" style="fill:#2e2a3a" textLength="200" lengthAdjust="spacingAndGlyphs">screen appears, followed</text>
<text x="2722" y="1529" style="fill:#2e2a3a" textLength="195" lengthAdjust="spacingAndGlyphs">by a sliding down "Mood</text>
<text x="2722" y="1555" style="fill:#2e2a3a" textLength="130" lengthAdjust="spacingAndGlyphs">Tracker" screen.</text>
</g>
<text x="2722" y="1641" font-size="14" style="fill:#8a6f9f" textLength="37" lengthAdjust="spacingAndGlyphs">Panna</text>
</svg>
</body></html>
